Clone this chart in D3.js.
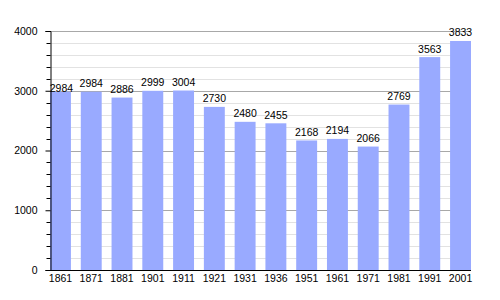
<!DOCTYPE html>
<html><head><meta charset="utf-8">
<script src="https://cdn.jsdelivr.net/npm/d3@7"></script>
<style>body{margin:0;background:#fff}svg{display:block}text{font-family:"Liberation Sans",Arial,sans-serif;font-size:10.5px;fill:#000}</style>
</head><body>
<script>
const years = ["1861","1871","1881","1901","1911","1921","1931","1936","1951","1961","1971","1981","1991","2001"];
const population = [2984,2984,2886,2999,3004,2730,2480,2455,2168,2194,2066,2769,3563,3833];
const yTicks = [0,1000,2000,3000,4000];

const W=500,H=300;
const svg=d3.select("body").append("svg").attr("width",W).attr("height",H);
const x=d3.scaleBand().domain(years).range([50,471]).paddingInner(0.32).paddingOuter(0);
const y=d3.scaleLinear().domain([0,4000]).range([270,31]);

const minor=d3.range(0,4001,200).filter(v=>v%1000!==0);
svg.append("g").selectAll("line").data(minor).join("line")
  .attr("x1",50).attr("x2",471).attr("y1",d=>Math.round(y(d))+0.5).attr("y2",d=>Math.round(y(d))+0.5)
  .attr("stroke","#e2e2e2").attr("stroke-width",1);
svg.append("g").selectAll("line").data(yTicks.filter(v=>v>0)).join("line")
  .attr("x1",50).attr("x2",471).attr("y1",d=>Math.round(y(d))+0.5).attr("y2",d=>Math.round(y(d))+0.5)
  .attr("stroke","#a8a8a8").attr("stroke-width",1);

svg.append("g").selectAll("rect").data(population).join("rect")
  .attr("x",(d,i)=>x(years[i])).attr("width",x.bandwidth())
  .attr("y",d=>y(d)).attr("height",d=>270-y(d)).attr("fill","#99aaff");

svg.append("g").selectAll("text").data(population).join("text")
  .attr("x",(d,i)=>x(years[i])+x.bandwidth()/2+(i===0?1:0))
  .attr("y",(d,i)=>y(d)-(i===0?0:4.5))
  .attr("text-anchor","middle").text(d=>d);

// y axis
const ya=d3.axisLeft(y).tickValues(yTicks).tickSize(5).tickPadding(8).tickFormat(d3.format("d"));
const gy=svg.append("g").attr("transform","translate(50.5,0)").call(ya);
gy.select(".domain").attr("stroke","#000");
gy.selectAll(".tick line").attr("stroke","#000");
gy.selectAll("text").style("font-size","10.5px").style("font-family","Liberation Sans, Arial, sans-serif");
gy.append("g").selectAll("line").data(minor).join("line")
  .attr("x1",-4).attr("x2",0).attr("y1",d=>Math.round(y(d))+0.5).attr("y2",d=>Math.round(y(d))+0.5).attr("stroke","#000");

// x axis
const xa=d3.axisBottom(x).tickSize(0).tickPadding(4);
const gx=svg.append("g").attr("transform","translate(0,270.5)").call(xa);
gx.select(".domain").attr("stroke","#000").attr("d","M50,0H471");
gx.selectAll("text").style("font-size","10.5px").style("font-family","Liberation Sans, Arial, sans-serif");
</script>
</body></html>
